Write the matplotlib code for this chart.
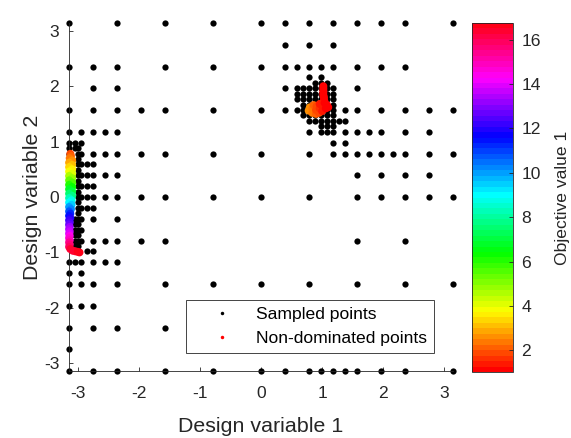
import numpy as np
import matplotlib.pyplot as plt
from matplotlib.lines import Line2D

# sampled points lie on a pi/8 grid (refined near the optima); values below are in units of pi/8
row_levels = [8, 7, 6, 5.5, 5.25, 5, 4.75, 4.5, 4.25, 4, 3.75, 3.5, 3.25, 3, 2.5, 2.25, 2,
              1.75, 1.5, 1.25, 1, 0.75, 0.5, 0.25, 0, -0.25, -0.5, -0.75, -1, -1.25, -1.5,
              -1.75, -2, -2.25, -2.5, -3, -3.5, -4, -5, -6, -7, -8]
row_points = [
    [-8, -6, -4, -2, 0, 1, 2, 3, 4, 5, 6, 8],
    [1, 2, 3],
    [-8, -7, -6, -4, -2, 0, 1, 1.5, 2, 2.5, 3, 4, 5, 6],
    [2, 2.5],
    [2.25, 2.5, 2.75],
    [-7, -6, 1, 1.5, 1.75, 2, 2.25, 2.5, 2.75, 3, 4],
    [1.5, 1.75, 2, 2.25, 2.5, 2.75, 3],
    [1.5, 1.75, 2, 2.25, 2.5, 2.75, 3],
    [1.75, 2, 2.25, 2.5, 2.75, 3],
    [-8, -7, -6, -5, -4, -2, 0, 1, 1.5, 1.75, 2, 2.25, 2.5, 2.75, 3, 3.5, 4, 5, 6, 7, 8],
    [1.75, 2, 2.25, 2.5, 2.75, 3],
    [2, 2.25, 2.5, 2.75, 3, 3.25, 3.5],
    [2.5, 2.75, 3],
    [-8, -7.5, -7, -6.5, -6, 2, 2.5, 2.75, 3, 3.5, 4, 4.5, 5, 6, 7],
    [-8, -7.75, -7.5, 3, 3.5],
    [-8, -7.75, -7.625],
    [-8, -7.625, -7.5, -7, -6.5, -6, -5, -4, -2, 0, 2, 3, 3.5, 4, 4.5, 5, 5.5, 6, 7, 8],
    [-7.625],
    [-7.625, -7.5, -7.25, -7],
    [-7.625],
    [-7.625, -7.5, -7.25, -7, -6.5, -6, 4, 5, 6, 7],
    [-7.625],
    [-7.625, -7.5, -7.25, -7],
    [-7.625],
    [-7.625, -7.5, -7.25, -7, -6.5, -6, -5, -4, -2, 0, 2, 4, 5, 6, 7, 8],
    [-7.625],
    [-7.625, -7.5, -7.25, -7],
    [-7.625],
    [-7.75, -7.625, -7.5, -7, -6],
    [-7.75, -7.625],
    [-7.75, -7.625, -7.5],
    [-7.75, -7.625],
    [-7.75, -7.625, -7.5, -7, -6.5, -6, -5, -4, 4, 6],
    [-7.75, -7.625],
    [-7.25, -7],
    [-8, -7.75, -7.5, -7, -6.5, -6],
    [-8, -7.5],
    [-8, -7.5, -7, -6, -4, -2, 0, 2, 4, 6, 8],
    [-8, -7.5, -7],
    [-8, -7, -6, -4],
    [-8],
    [-8, -7, -6, -4, -2, 0, 1, 2, 2.5, 3, 3.5, 4, 5, 6, 8],
]

# non-dominated points (design variables) and their objective value 1
nd_x = [-3.12, -3.11, -3.13, -3.09, -3.14, -3.09, -3.14, -3.09, -3.14, -3.09, -3.14, -3.09,
        -3.14, -3.09, -3.14, -3.09, -3.14, -3.09, -3.14, -3.09, -3.14, -3.10, -3.14, -3.10,
        -3.14, -3.11, -3.14, -3.12, -3.14, -3.12, -3.14, -3.13, -3.14, -3.13, -3.14, -3.13,
        -3.14, -3.13, -3.14, -3.13, -3.14, -3.13, -3.14, -3.12,
        -3.08, -3.04, -3.00, -2.97,
        1.02, 1.02, 1.02, 1.02, 1.02, 1.03, 1.03, 1.04,
        0.78, 0.80, 0.84, 0.84, 0.86, 0.90, 0.90, 0.91, 0.95, 0.96, 0.96, 1.00,
        1.01, 1.04, 1.06, 1.08, 1.10]
nd_y = [0.78, 0.74, 0.70, 0.66, 0.62, 0.58, 0.54, 0.50, 0.46, 0.42, 0.38, 0.34,
        0.30, 0.26, 0.22, 0.18, 0.14, 0.10, 0.06, 0.02, -0.02, -0.06, -0.10, -0.14,
        -0.18, -0.22, -0.26, -0.30, -0.34, -0.38, -0.42, -0.46, -0.50, -0.54, -0.58, -0.62,
        -0.66, -0.70, -0.74, -0.78, -0.82, -0.86, -0.90, -0.94,
        -0.97, -0.98, -0.99, -1.00,
        2.00, 1.96, 1.92, 1.88, 1.84, 1.80, 1.76, 1.72,
        1.56, 1.62, 1.52, 1.60, 1.66, 1.50, 1.57, 1.64, 1.52, 1.60, 1.68, 1.55,
        1.63, 1.70, 1.60, 1.66, 1.62]
nd_f = [1.9, 2.2, 2.4, 2.7, 2.9, 3.1, 3.3, 3.6, 3.9, 4.2, 4.6, 4.9,
        5.3, 5.6, 6.0, 6.4, 6.8, 7.1, 7.5, 7.9, 8.3, 8.7, 9.1, 9.5,
        9.9, 10.3, 10.7, 11.1, 11.5, 11.9, 12.2, 12.5, 12.8, 13.1, 13.4, 13.7,
        14.0, 14.3, 14.6, 15.0, 15.4, 15.7, 16.0, 16.3,
        16.4, 16.5, 16.6, 16.7,
        1.1, 1.1, 1.1, 1.15, 1.15, 1.2, 1.2, 1.25,
        2.7, 2.6, 2.4, 2.4, 2.2, 2.1, 2.0, 1.9, 1.8, 1.7, 1.5, 1.5,
        1.3, 1.2, 1.2, 1.1, 1.1]

f_min, f_max = 1.02, 16.75

step = np.pi / 8
sx, sy = [], []
for j, pts in zip(row_levels, row_points):
    for i in pts:
        sx.append(i * step)
        sy.append(j * step)

plt.rcParams['font.family'] = ['Liberation Sans', 'DejaVu Sans']
plt.rcParams['axes.unicode_minus'] = False
dark = '#262626'

fig = plt.figure(figsize=(5.71, 4.38), dpi=100)
ax = fig.add_axes([69 / 571, 1 - 371 / 438, 384 / 571, 348 / 438])
cax = fig.add_axes([472 / 571, 1 - 372 / 438, 41 / 571, 349 / 438])

ax.plot(sx, sy, 'o', color='k', ms=4.5, mew=0, ls='none', clip_on=False, zorder=2)
sc = ax.scatter(nd_x, nd_y, c=nd_f, cmap=plt.get_cmap('hsv', 64), vmin=f_min, vmax=f_max,
                s=33, linewidths=0, clip_on=False, zorder=3)

ax.set_xlim(-np.pi, np.pi)
ax.set_ylim(-np.pi, np.pi)
ax.set_xticks(range(-3, 4))
ax.set_yticks(range(-3, 4))
for s in ['top', 'right']:
    ax.spines[s].set_visible(False)
for s in ['left', 'bottom']:
    ax.spines[s].set_color(dark)
    ax.spines[s].set_linewidth(0.6)
ax.tick_params(axis='x', direction='in', length=3, width=0.6, colors=dark, labelsize=12.6, pad=11)
ax.tick_params(axis='y', direction='in', length=3, width=0.6, colors=dark, labelsize=12.6, pad=7)
ax.set_xlabel('Design variable 1', fontsize=15.4, color=dark, labelpad=11)
ax.set_ylabel('Design variable 2', fontsize=15.4, color=dark, labelpad=1)

handles = [Line2D([], [], marker='o', color='k', ls='none', ms=2.5, mew=0),
           Line2D([], [], marker='o', color='red', ls='none', ms=2.5, mew=0)]
leg = ax.legend(handles, ['Sampled points', 'Non-dominated points'], loc='lower right',
                bbox_to_anchor=(0.951, 0.052), fontsize=12.6, fancybox=False, framealpha=1,
                edgecolor=dark, borderaxespad=0, handlelength=3.3, handletextpad=0.3,
                borderpad=0.4, labelspacing=0.5)
leg.get_frame().set_linewidth(0.6)
leg.set_zorder(5)

cb = fig.colorbar(sc, cax=cax)
cb.set_ticks(range(2, 17, 2))
cb.outline.set_edgecolor(dark)
cb.outline.set_linewidth(0.6)
cax.tick_params(direction='in', length=3, width=0.6, colors=dark, labelsize=12.6, pad=6)
cb.set_label('Objective value 1', fontsize=12.6, color=dark, labelpad=10)

fig.savefig('out.png', dpi=100)
